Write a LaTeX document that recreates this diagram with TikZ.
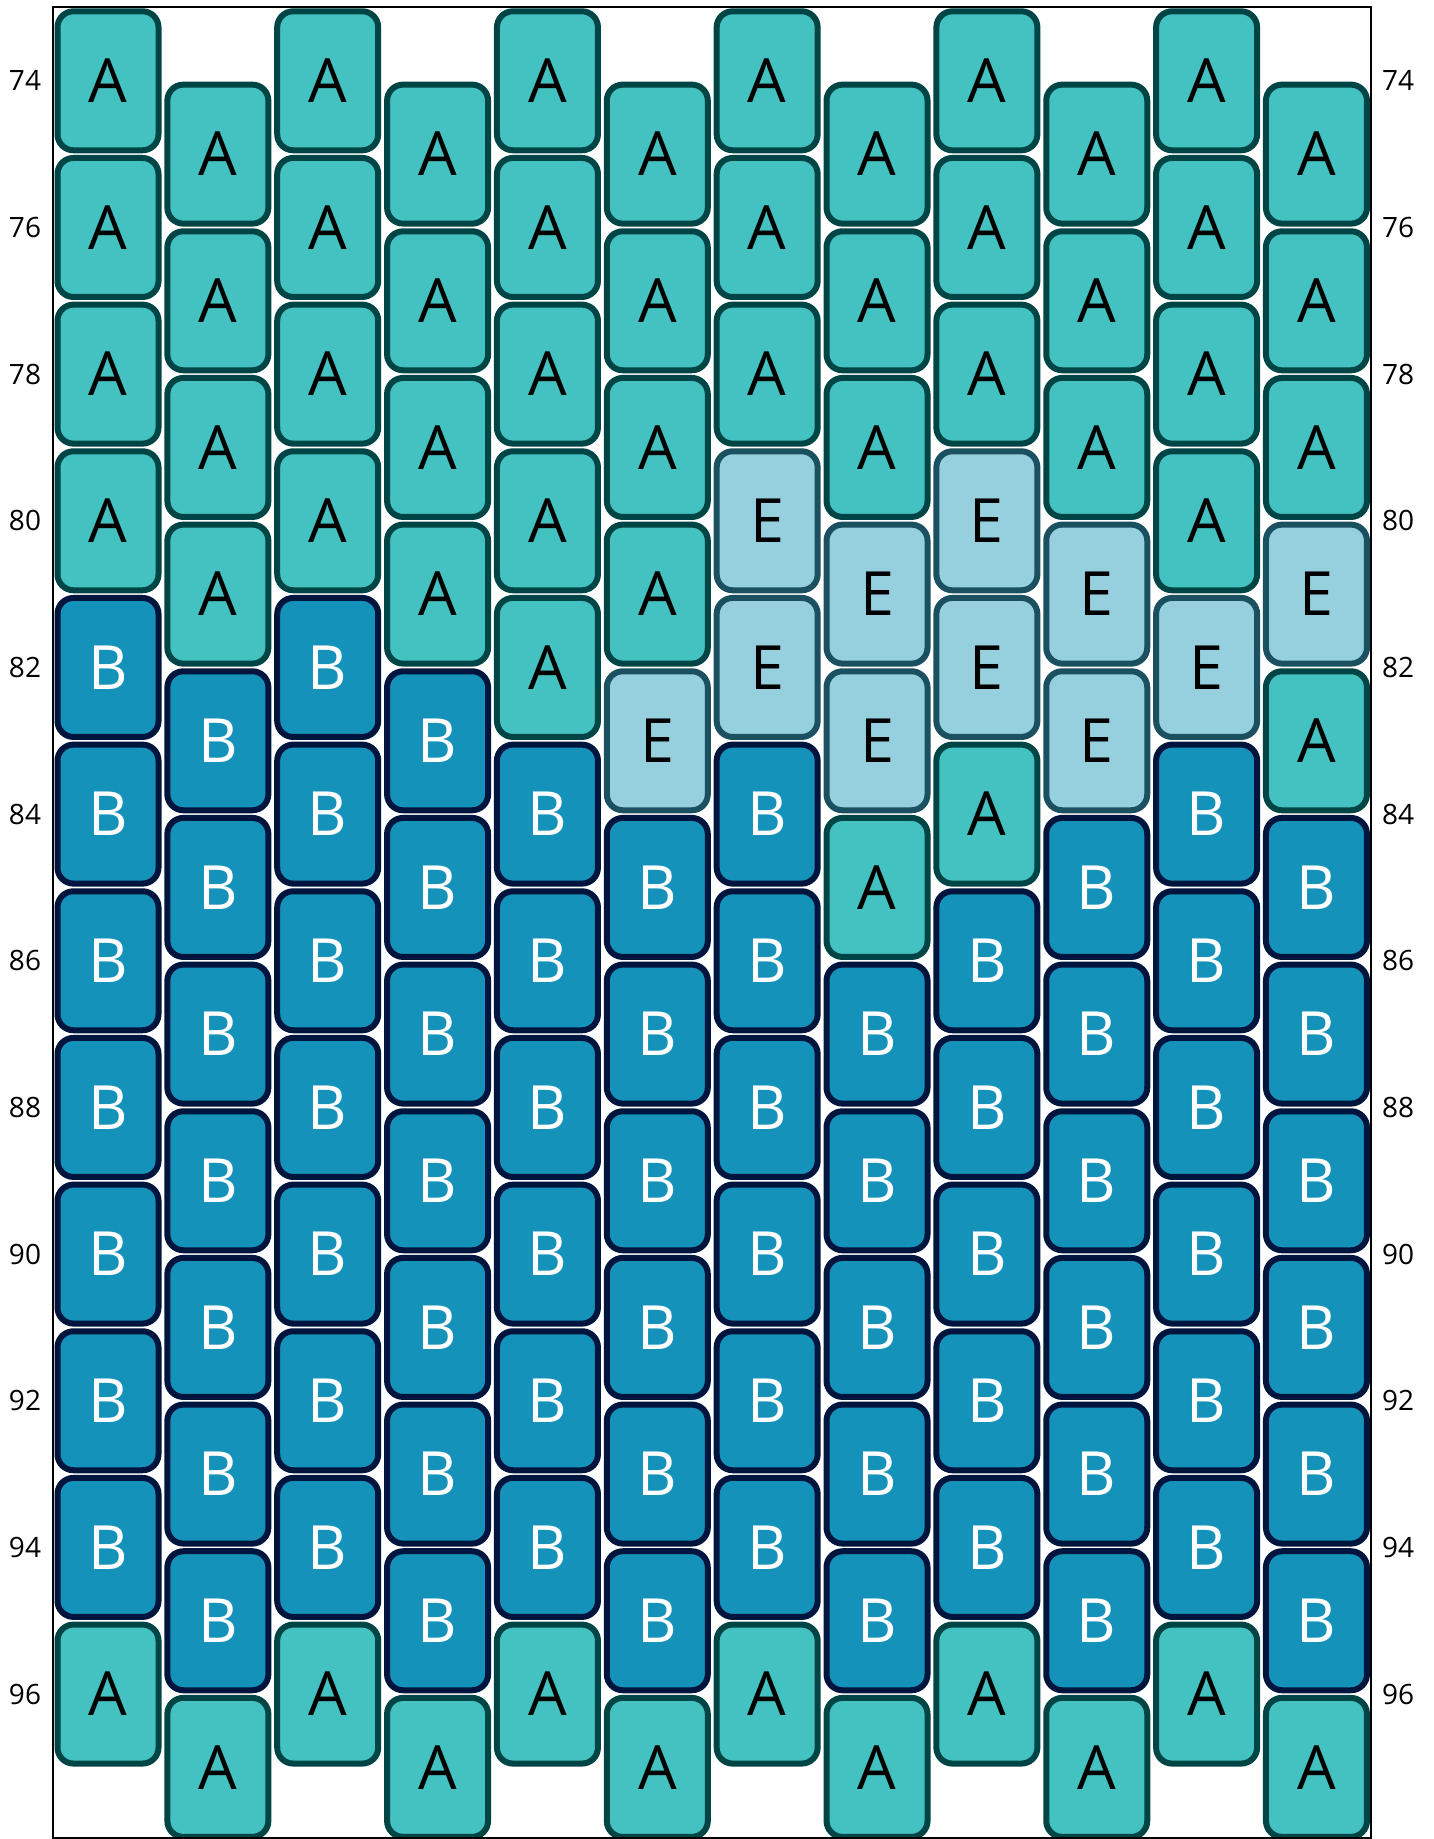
\documentclass[tikz,border=0pt]{standalone}
\usepackage{fontspec}
\setmainfont{Open Sans}
\definecolor{afill}{HTML}{44C1C1}
\definecolor{adraw}{HTML}{004545}
\definecolor{bfill}{HTML}{1592B9}
\definecolor{bdraw}{HTML}{00153D}
\definecolor{efill}{HTML}{96CFDE}
\definecolor{edraw}{HTML}{1B5060}
\tikzset{
  bead/.style={rectangle, rounded corners=16pt, line width=6pt, inner sep=0pt,
    minimum width=101pt, minimum height=139pt, font=\fontsize{61}{61}\selectfont},
  beadA/.style={fill=afill, draw=adraw, text=black},
  beadB/.style={fill=bfill, draw=bdraw, text=white},
  beadE/.style={fill=efill, draw=edraw, text=black},
  rowlabel/.style={inner sep=0pt, font=\fontsize{28}{28}\selectfont, text=black}
}
\newcommand\beadcol[2]{%
  \foreach \t [count=\k] in {#2} {
    \pgfmathsetmacro\xx{108+(#1-1)*109.86}
    \pgfmathsetmacro\rr{74+mod(#1+1,2)+2*(\k-1)}
    \pgfmathsetmacro\yy{80.8+(\rr-74)*73.33}
    \node[bead, bead\t] (b#1-\k) at (\xx,\yy) {\t};
  }%
}
\begin{document}
\begin{tikzpicture}[x=1pt,y=-1pt]
\useasboundingbox (0,0) rectangle (1433,1839);
\fill[white] (0,0) rectangle (1433,1839);
\beadcol{1}{A,A,A,A,B,B,B,B,B,B,B,A}
\beadcol{2}{A,A,A,A,B,B,B,B,B,B,B,A}
\beadcol{3}{A,A,A,A,B,B,B,B,B,B,B,A}
\beadcol{4}{A,A,A,A,B,B,B,B,B,B,B,A}
\beadcol{5}{A,A,A,A,A,B,B,B,B,B,B,A}
\beadcol{6}{A,A,A,A,E,B,B,B,B,B,B,A}
\beadcol{7}{A,A,A,E,E,B,B,B,B,B,B,A}
\beadcol{8}{A,A,A,E,E,A,B,B,B,B,B,A}
\beadcol{9}{A,A,A,E,E,A,B,B,B,B,B,A}
\beadcol{10}{A,A,A,E,E,B,B,B,B,B,B,A}
\beadcol{11}{A,A,A,A,E,B,B,B,B,B,B,A}
\beadcol{12}{A,A,A,E,A,B,B,B,B,B,B,A}
\draw[line width=2pt, black] (52.7,6.7) rectangle (1370.5,1838);
\foreach \r in {74,76,...,96} {
  \pgfmathsetmacro\yy{80.8+(\r-74)*73.33}
  \node[rowlabel] (l\r) at (25,\yy) {\r};
  \node[rowlabel] (r\r) at (1398,\yy) {\r};
}
\end{tikzpicture}
\end{document}
